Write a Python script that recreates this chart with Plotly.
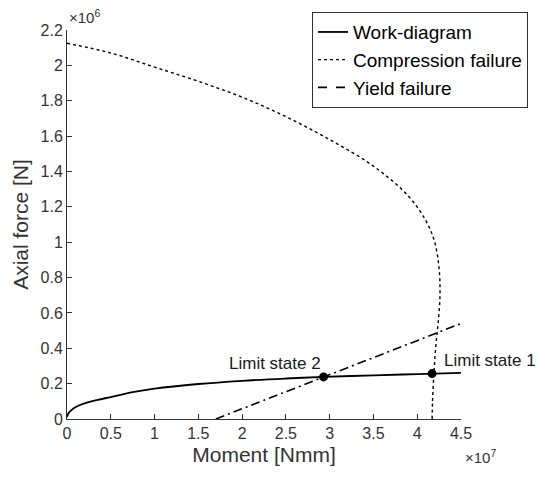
import plotly.graph_objects as go

# Moment in Nmm, axial force in N
work_m = [0.0, 0.02e7, 0.05e7, 0.1e7, 0.2e7, 0.35e7, 0.5e7, 0.75e7, 1.0e7, 1.5e7,
          2.0e7, 2.5e7, 2.93e7, 3.5e7, 4.0e7, 4.5e7]
work_n = [0.012e6, 0.035e6, 0.05e6, 0.068e6, 0.088e6, 0.108e6, 0.124e6, 0.152e6, 0.172e6,
          0.198e6, 0.216e6, 0.229e6, 0.238e6, 0.247e6, 0.254e6, 0.261e6]

comp_m = [0.0, 0.5e7, 1.0e7, 1.5e7, 2.0e7, 2.5e7, 3.0e7, 3.5e7, 3.9e7, 4.1e7, 4.2e7,
          4.25e7, 4.26e7, 4.24e7, 4.21e7, 4.19e7, 4.175e7, 4.17e7]
comp_n = [2.125e6, 2.07e6, 1.99e6, 1.91e6, 1.82e6, 1.71e6, 1.58e6, 1.43e6, 1.26e6,
          1.12e6, 1.0e6, 0.85e6, 0.7e6, 0.55e6, 0.4e6, 0.25e6, 0.1e6, 0.0]

yield_m = [1.7e7, 4.5e7]
yield_n = [0.0, 0.54e6]

limit_names = ["Limit state 2", "Limit state 1"]
limit_m = [2.93e7, 4.17e7]
limit_n = [0.238e6, 0.257e6]

x_ticks = [i * 0.5e7 for i in range(10)]
x_ticktext = ["0", "0.5", "1", "1.5", "2", "2.5", "3", "3.5", "4", "4.5"]
y_ticks = [i * 0.2e6 for i in range(12)]
y_ticktext = ["0", "0.2", "0.4", "0.6", "0.8", "1", "1.2", "1.4", "1.6", "1.8", "2", "2.2"]

FONT = "Arial, Liberation Sans, Helvetica, sans-serif"
AX = "#333333"

fig = go.Figure()
fig.add_trace(go.Scatter(x=work_m, y=work_n, mode="lines", name="Work-diagram",
                         line=dict(color="black", width=1.8, shape="spline")))
fig.add_trace(go.Scatter(x=comp_m, y=comp_n, mode="lines", name="Compression failure",
                         line=dict(color="black", width=1.4, dash="dot", shape="spline")))
fig.add_trace(go.Scatter(x=yield_m, y=yield_n, mode="lines", name="Yield failure",
                         showlegend=False,
                         line=dict(color="black", width=1.6, dash="9px,4px,2px,4px")))
# legend entry for the yield line
fig.add_trace(go.Scatter(x=[None], y=[None], mode="lines", name="Yield failure",
                         line=dict(color="black", width=1.6, dash="dash")))
fig.add_trace(go.Scatter(x=limit_m, y=limit_n, mode="markers", showlegend=False,
                         marker=dict(color="black", size=9)))

# limit state labels
fig.add_annotation(x=limit_m[0], y=limit_n[0], text=limit_names[0], showarrow=False,
                   xanchor="right", yanchor="bottom", xshift=-1, yshift=2,
                   font=dict(family=FONT, size=17, color="#1a1a1a"))
fig.add_annotation(x=limit_m[1], y=limit_n[1], text=limit_names[1], showarrow=False,
                   xanchor="left", yanchor="bottom", xshift=10, yshift=2,
                   font=dict(family=FONT, size=17, color="#1a1a1a"))

# axis exponent labels
fig.add_annotation(xref="paper", yref="paper", x=0.0, y=1.0, text="×10<sup>6</sup>",
                   showarrow=False, xanchor="left", yanchor="bottom", yshift=2,
                   font=dict(family=FONT, size=15, color=AX))
fig.add_annotation(xref="paper", yref="paper", x=1.0, y=0.0, text="×10<sup>7</sup>",
                   showarrow=False, xanchor="left", yanchor="top", yshift=-26, xshift=2,
                   font=dict(family=FONT, size=15, color=AX))

fig.update_layout(
    width=540, height=482,
    margin=dict(l=67, r=79, t=28, b=63),
    plot_bgcolor="white", paper_bgcolor="white",
    font=dict(family=FONT, color=AX),
    legend=dict(x=1.17, y=1.046, xanchor="right", yanchor="top",
                bgcolor="white", bordercolor=AX, borderwidth=1,
                font=dict(family=FONT, size=19, color="black"),
                tracegroupgap=0),
    xaxis=dict(range=[0, 4.5e7], tickvals=x_ticks, ticktext=x_ticktext,
               showgrid=False, zeroline=False, showline=True, linecolor=AX, linewidth=1,
               ticks="inside", ticklen=5, tickcolor=AX,
               tickfont=dict(family=FONT, size=16, color=AX),
               title=dict(text="Moment [Nmm]", font=dict(family=FONT, size=21, color=AX),
                          standoff=6)),
    yaxis=dict(range=[0, 2.2e6], tickvals=y_ticks, ticktext=y_ticktext,
               showgrid=False, zeroline=False, showline=True, linecolor=AX, linewidth=1,
               ticks="inside", ticklen=5, tickcolor=AX,
               tickfont=dict(family=FONT, size=16, color=AX),
               title=dict(text="Axial force [N]", font=dict(family=FONT, size=21, color=AX),
                          standoff=6)),
)

fig.write_html("out.html")
